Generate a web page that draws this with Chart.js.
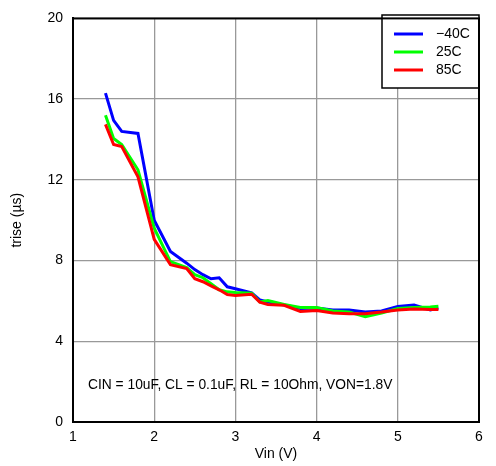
<!DOCTYPE html>
<html>
<head>
<meta charset="utf-8">
<script src="https://cdn.jsdelivr.net/npm/chart.js@4.4.1/dist/chart.umd.min.js"></script>
<style>
  html, body { margin: 0; padding: 0; background: #fff; }
  #wrap { width: 496px; height: 466px; }
</style>
</head>
<body>
<div id="wrap"><canvas id="trise"></canvas></div>
<script>
// Vin (V) sample points, shared by all three curves
var vin = [1.4, 1.5, 1.6, 1.8, 2.0, 2.2, 2.4, 2.5, 2.6, 2.7, 2.8, 2.9, 3.0, 3.2, 3.3, 3.4,
           3.6, 3.8, 4.0, 4.2, 4.4, 4.6, 4.8, 5.0, 5.2, 5.4, 5.5];
// trise (us) per temperature
var tMinus40 = [16.3, 14.95, 14.4, 14.3, 10.0, 8.45, 7.87, 7.55, 7.3, 7.1, 7.15, 6.7, 6.6, 6.4, 6.05, 5.95,
                5.8, 5.62, 5.65, 5.55, 5.55, 5.45, 5.5, 5.72, 5.8, 5.55, 5.65];
var t25 = [15.2, 14.05, 13.75, 12.5, 9.6, 7.95, 7.65, 7.3, 7.15, 6.85, 6.55, 6.45, 6.42, 6.38, 5.95, 6.02,
           5.82, 5.68, 5.68, 5.5, 5.45, 5.22, 5.4, 5.62, 5.68, 5.7, 5.73];
var t85 = [14.75, 13.75, 13.65, 12.15, 9.05, 7.8, 7.6, 7.1, 6.95, 6.75, 6.55, 6.32, 6.27, 6.33, 5.94, 5.82,
           5.78, 5.48, 5.53, 5.4, 5.37, 5.37, 5.45, 5.55, 5.6, 5.58, 5.58];
var seriesNames = ['\u221240C', '25C', '85C'];
var xTicks = [1, 2, 3, 4, 5, 6];
var yTicks = [0, 4, 8, 12, 16, 20];
var note = 'CIN = 10uF, CL = 0.1uF, RL = 10Ohm, VON=1.8V';

var FONT = 'Liberation Sans, Arial, Helvetica, sans-serif';

function pts(ys) {
  return vin.map(function (v, i) { return { x: v, y: ys[i] }; });
}

// frame, legend box and condition note
var extras = {
  id: 'extras',
  afterDatasetsDraw: function (chart) {
    var ctx = chart.ctx, a = chart.chartArea;
    ctx.save();
    // legend box
    var bx = 382, by = 15, bw = a.right - bx, bh = 73;
    ctx.fillStyle = '#fff';
    ctx.fillRect(bx, by, bw, bh);
    ctx.strokeStyle = '#000';
    ctx.lineWidth = 1.5;
    ctx.strokeRect(bx, by, bw, bh);
    ctx.font = '14px ' + FONT;
    ctx.textBaseline = 'middle';
    chart.data.datasets.forEach(function (ds, i) {
      var yy = 34 + i * 18;
      ctx.strokeStyle = ds.borderColor;
      ctx.lineWidth = 3;
      ctx.beginPath();
      ctx.moveTo(394, yy);
      ctx.lineTo(423, yy);
      ctx.stroke();
      ctx.fillStyle = '#000';
      ctx.fillText(ds.label, 436, yy);
    });
    // note
    ctx.fillStyle = '#000';
    ctx.font = '13.8px ' + FONT;
    ctx.textBaseline = 'middle';
    ctx.fillText(note, 88, 385);
    // frame
    ctx.strokeStyle = '#000';
    ctx.lineWidth = 2;
    ctx.strokeRect(a.left, a.top, a.right - a.left, a.bottom - a.top);
    ctx.restore();
  }
};

var config = {
  type: 'line',
  data: {
    datasets: [{
      label: seriesNames[0],
      data: pts(tMinus40),
      borderColor: '#0000ff',
      order: 2
    }, {
      label: seriesNames[1],
      data: pts(t25),
      borderColor: '#00ff00',
      order: 1
    }, {
      label: seriesNames[2],
      data: pts(t85),
      borderColor: '#ff0000',
      order: 0
    }]
  },
  options: {
    responsive: true,
    maintainAspectRatio: false,
    animation: false,
    elements: {
      point: { radius: 0 },
      line: { borderWidth: 3, tension: 0, fill: false }
    },
    layout: { padding: { top: 17, right: 17, left: 0, bottom: 0 } },
    plugins: {
      legend: { display: false },
      tooltip: { enabled: false }
    },
    scales: {
      x: {
        type: 'linear',
        min: 1,
        max: 6,
        afterBuildTicks: function (s) { s.ticks = xTicks.map(function (v) { return { value: v }; }); },
        afterFit: function (s) { s.height = 44; },
        grid: { color: '#999', lineWidth: 1.3, drawTicks: false },
        border: { color: '#000', width: 2 },
        ticks: { color: '#000', font: { family: FONT, size: 14 }, padding: 7, maxRotation: 0 },
        title: { display: true, text: 'Vin (V)', color: '#000', font: { family: FONT, size: 14 }, padding: { top: 0, bottom: 3 } }
      },
      y: {
        min: 0,
        max: 20,
        afterBuildTicks: function (s) { s.ticks = yTicks.map(function (v) { return { value: v }; }); },
        afterFit: function (s) { s.width = 73; },
        grid: { color: '#999', lineWidth: 1.3, drawTicks: false },
        border: { color: '#000', width: 2 },
        ticks: { color: '#000', font: { family: FONT, size: 14 }, padding: 10 },
        title: { display: true, text: 'trise (\u00b5s)', color: '#000', font: { family: FONT, size: 14 }, padding: { top: 9, bottom: 0 } }
      }
    }
  },
  plugins: [extras]
};

new Chart(document.getElementById('trise'), config);
</script>
</body>
</html>
